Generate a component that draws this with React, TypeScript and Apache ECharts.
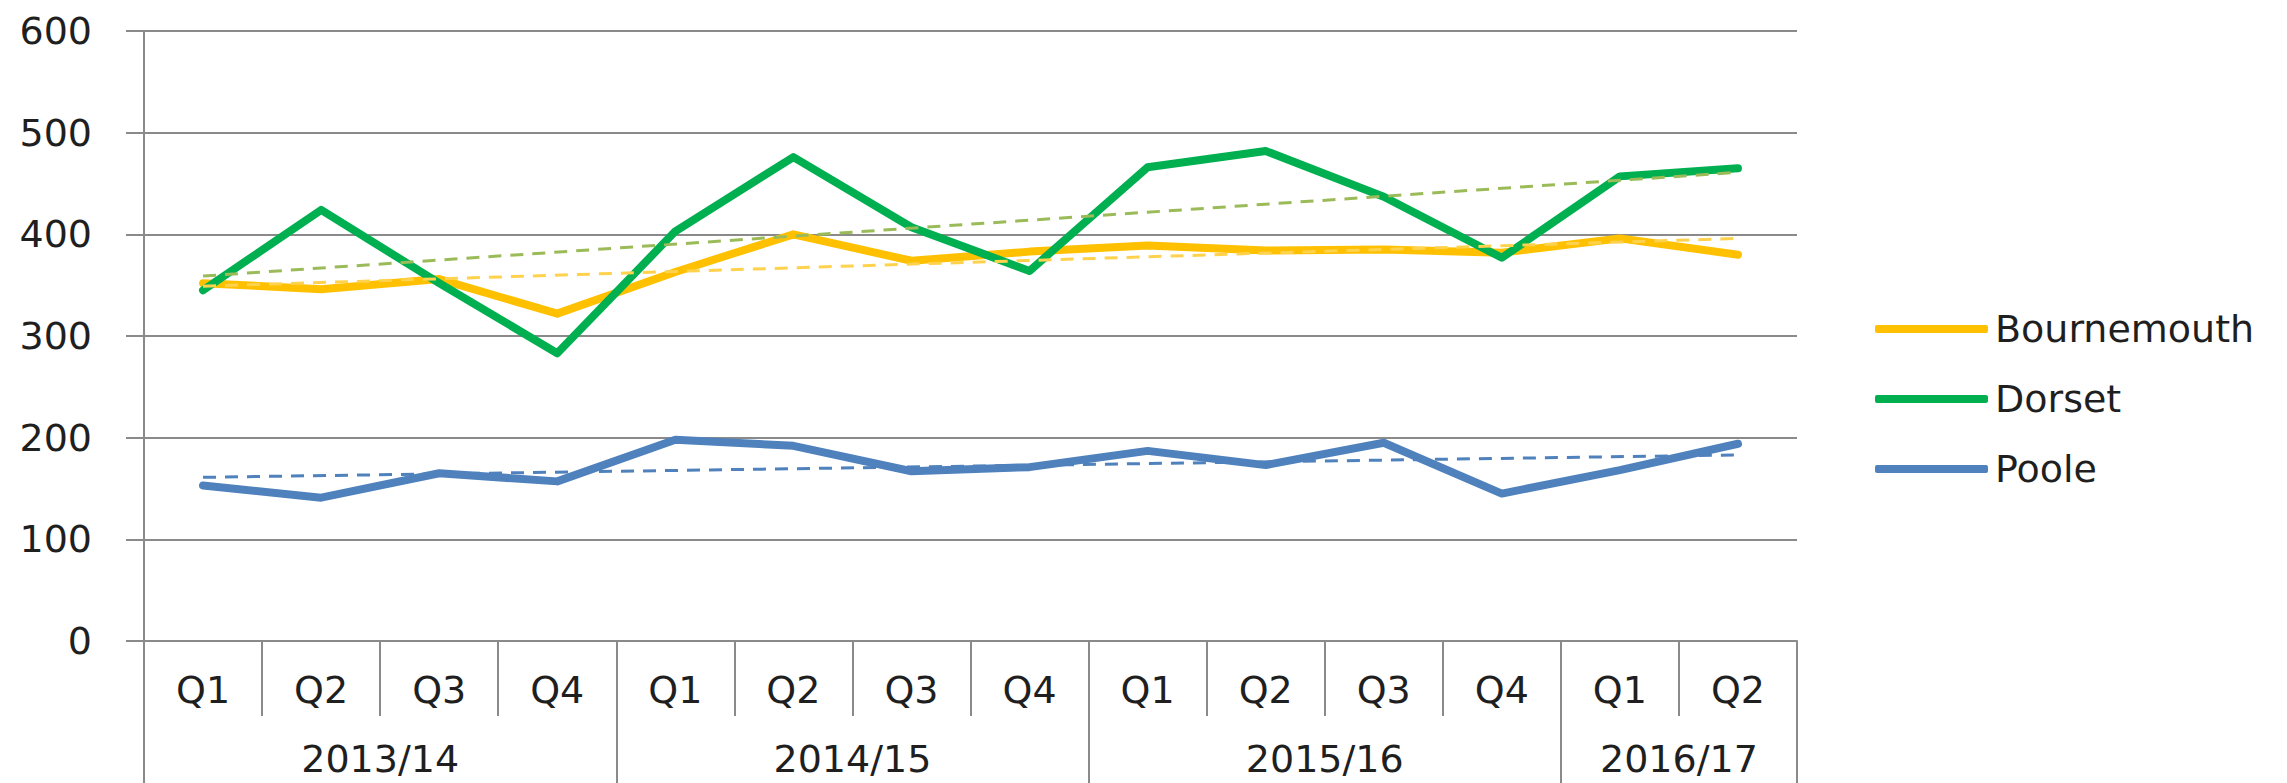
import React, { useEffect, useRef } from "react";
import * as echarts from "echarts";

// ---- Data ----
const quarters = ["Q1", "Q2", "Q3", "Q4", "Q1", "Q2", "Q3", "Q4", "Q1", "Q2", "Q3", "Q4", "Q1", "Q2"];
const years = ["2013/14", "2014/15", "2015/16", "2016/17"];
const quartersPerYear = [4, 4, 4, 2];

const bournemouth = [352, 346, 356, 322, 363, 400, 374, 383, 389, 384, 385, 382, 396, 380];
const dorset = [345, 424, 352, 283, 403, 476, 407, 364, 466, 482, 437, 377, 457, 465];
const poole = [153, 141, 165, 157, 198, 192, 167, 171, 187, 173, 195, 145, 168, 194];

// Linear trend lines (start value at first quarter, end value at last quarter)
const bournemouthTrend = [349, 396];
const dorsetTrend = [359, 461];
const pooleTrend = [161, 183];

const yMin = 0;
const yMax = 600;
const yInterval = 100;

const seriesNames = ["Bournemouth", "Dorset", "Poole"];
const seriesColors = ["#FFC000", "#00B050", "#4F81BD"];
const trendColors = ["#FFD24D", "#9BBB59", "#4F81BD"];

const FONT = "DejaVu Sans";
const GRID = "#8A8A8A";
const TEXT = "#1F1F1F";

export default function App() {
  const ref = useRef<HTMLDivElement>(null);

  useEffect(() => {
    document.body.style.margin = "0";
    if (!ref.current) return;
    const chart = echarts.init(ref.current, undefined, { renderer: "svg" });

    // Year axis: half-quarter slots so year labels can sit at group centres
    const slotCount = quarters.length * 2 + 1;
    const yearAxisData: string[] = new Array(slotCount).fill("");
    const yearBounds = new Set<number>();
    let start = 0;
    years.forEach((y, i) => {
      yearBounds.add(2 * start);
      yearAxisData[2 * start + quartersPerYear[i]] = y;
      start += quartersPerYear[i];
    });
    yearBounds.add(2 * start);

    const values = [bournemouth, dorset, poole];
    const trends = [bournemouthTrend, dorsetTrend, pooleTrend];
    const last = quarters.length - 1;

    const mainSeries = values.map((d, i) => ({
      name: seriesNames[i],
      type: "line",
      xAxisIndex: 0,
      data: d,
      symbol: "none",
      showSymbol: false,
      z: 3,
      lineStyle: { color: seriesColors[i], width: 8, cap: "round", join: "round" },
      itemStyle: { color: seriesColors[i] },
    }));

    const trendSeries = trends.map((t, i) => ({
      name: seriesNames[i] + " trend",
      type: "line",
      xAxisIndex: 0,
      data: [
        [0, t[0]],
        [last, t[1]],
      ],
      symbol: "none",
      showSymbol: false,
      z: 4,
      lineStyle: { color: trendColors[i], width: 3, type: [13, 9] },
      itemStyle: { color: trendColors[i] },
    }));

    chart.setOption({
      animation: false,
      backgroundColor: "#FFFFFF",
      grid: { left: 144, right: 490, top: 31, bottom: 142, containLabel: false },
      legend: {
        orient: "vertical",
        left: 1870,
        top: 305,
        icon: "roundRect",
        itemWidth: 113,
        itemHeight: 8,
        itemGap: 32,
        data: seriesNames,
        textStyle: { fontSize: 38, fontFamily: FONT, color: TEXT, padding: [0, 0, 0, 2] },
      },
      xAxis: [
        {
          type: "category",
          data: quarters,
          boundaryGap: true,
          position: "bottom",
          axisLine: { show: true, lineStyle: { color: GRID, width: 2 } },
          axisTick: { show: true, interval: 0, length: 75, lineStyle: { color: GRID, width: 2 } },
          axisLabel: { interval: 0, margin: 30, fontSize: 38, fontFamily: FONT, color: TEXT },
          splitLine: { show: false },
        },
        {
          type: "category",
          data: yearAxisData,
          boundaryGap: false,
          position: "bottom",
          axisLine: { show: false },
          axisTick: {
            show: true,
            interval: (index: number) => yearBounds.has(index),
            length: 150,
            lineStyle: { color: GRID, width: 2 },
          },
          axisLabel: { interval: 0, margin: 99, fontSize: 38, fontFamily: FONT, color: TEXT },
          splitLine: { show: false },
        },
      ],
      yAxis: {
        type: "value",
        min: yMin,
        max: yMax,
        interval: yInterval,
        axisLine: { show: true, lineStyle: { color: GRID, width: 2 } },
        axisTick: { show: true, length: 18, lineStyle: { color: GRID, width: 2 } },
        axisLabel: { margin: 52, fontSize: 38, fontFamily: FONT, color: TEXT },
        splitLine: { show: true, lineStyle: { color: GRID, width: 2 } },
      },
      series: [...mainSeries, ...trendSeries],
    });

    return () => {
      chart.dispose();
    };
  }, []);

  return <div ref={ref} style={{ width: 2287, height: 783 }} />;
}
